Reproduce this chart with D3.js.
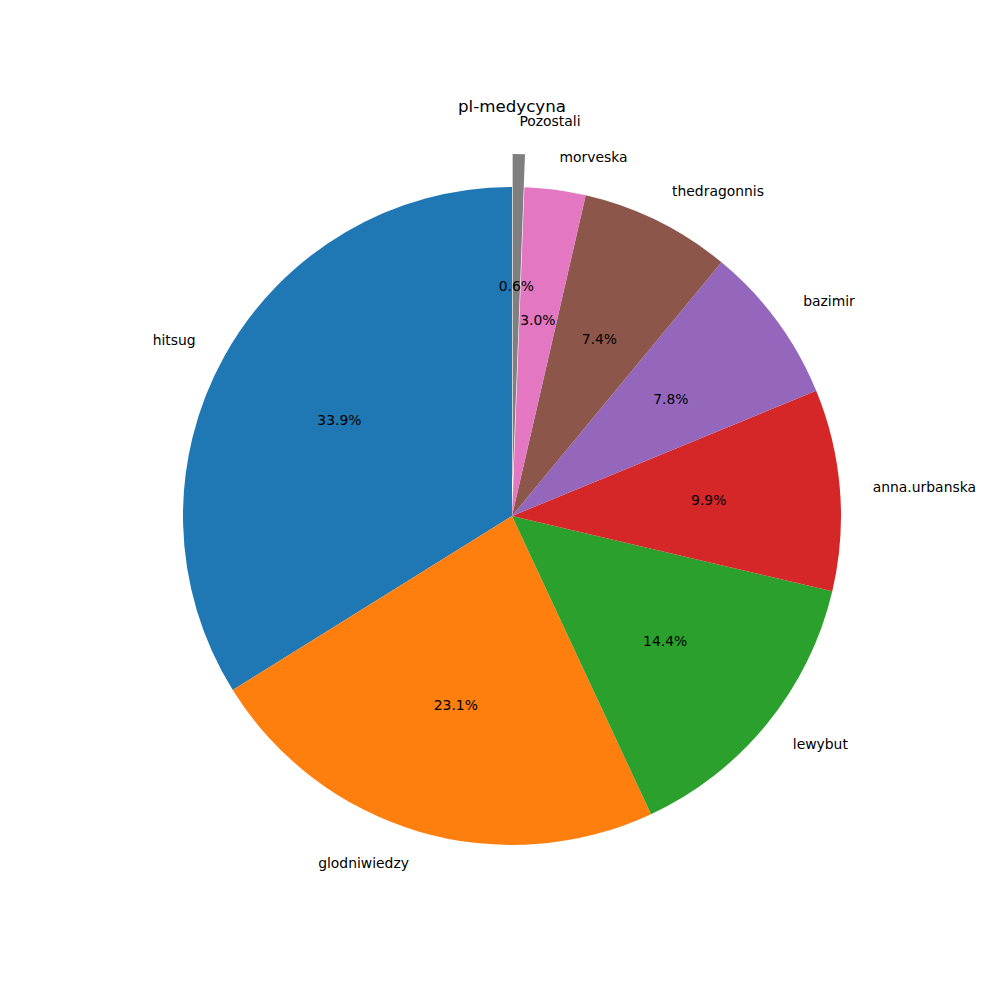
<!DOCTYPE html>
<html><head><meta charset="utf-8">
<script src="https://cdn.jsdelivr.net/npm/d3@7"></script>
<style>body{margin:0;background:#fff}text{font-family:"DejaVu Sans",sans-serif}</style>
</head><body>
<svg id="chart" width="1000" height="1000"></svg>
<script>
const categories = ["hitsug","glodniwiedzy","lewybut","anna.urbanska","bazimir","thedragonnis","morveska","Pozostali"];
const values = [33.9,23.1,14.4,9.9,7.8,7.4,3.0,0.6];
const colors = ["#1f77b4","#ff7f0e","#2ca02c","#d62728","#9467bd","#8c564b","#e377c2","#7f7f7f"];
const explode = [0,0,0,0,0,0,0,0.1];
const title = "pl-medycyna";

const svg = d3.select("#chart");
const cx = 512, cy = 516, R = 329;
const total = d3.sum(values);

const pie = d3.pie().sort(null).value(d => d).startAngle(0).endAngle(-2*Math.PI);
const arcs = pie(values);
const arc = d3.arc().innerRadius(0).outerRadius(R);

const g = svg.append("g").attr("transform", `translate(${cx},${cy})`);

arcs.forEach((a, i) => {
  const mid = (a.startAngle + a.endAngle) / 2; // d3 angle: clockwise from top
  const dx = Math.sin(mid), dy = -Math.cos(mid);
  const ox = explode[i] * R * dx, oy = explode[i] * R * dy;
  g.append("path")
    .attr("d", arc({startAngle: a.endAngle, endAngle: a.startAngle}))
    .attr("transform", `translate(${ox},${oy})`)
    .attr("fill", colors[i]);
  const lx = ox + 1.1 * R * dx, ly = oy + 1.1 * R * dy;
  g.append("text")
    .attr("x", lx).attr("y", ly)
    .attr("text-anchor", dx > 0 ? "start" : "end")
    .attr("dominant-baseline", "central")
    .attr("font-size", "13.9px")
    .text(categories[i]);
  const px = ox + 0.6 * R * dx, py = oy + 0.6 * R * dy;
  g.append("text")
    .attr("x", px).attr("y", py)
    .attr("text-anchor", "middle")
    .attr("dominant-baseline", "central")
    .attr("font-size", "13.9px")
    .text((values[i] / total * 100).toFixed(1) + "%");
});

svg.append("text").attr("x", 512).attr("y", 112)
  .attr("text-anchor", "middle").attr("font-size", "16.67px").text(title);
</script>
</body></html>
